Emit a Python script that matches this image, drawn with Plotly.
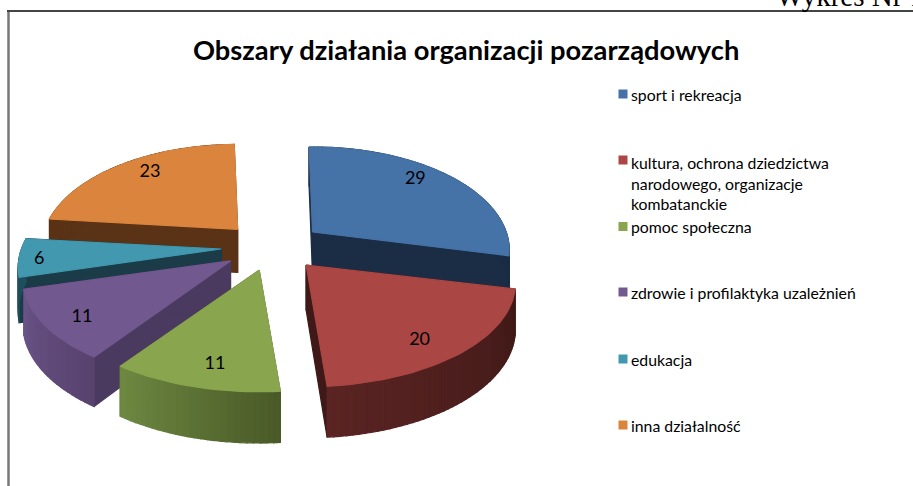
import math
import plotly.graph_objects as go

categories = ["sport i rekreacja",
              "kultura, ochrona dziedzictwa<br>narodowego, organizacje<br>kombatanckie",
              "pomoc społeczna",
              "zdrowie i profilaktyka uzależnień",
              "edukacja",
              "inna działalność"]
values = [29, 20, 11, 11, 6, 23]
title_text = "Obszary działania organizacji pozarządowych"

top_colors = ["#4572A7", "#AA4643", "#89A54E", "#71588F", "#4198AF", "#DB843D"]
wall_colors = ["#1B2D45", "#3F1917", "#4A5A28", "#4B3A5F", "#1A3B47", "#5A3316"]
arc_start = ["#1B2D45", "#3F1917", "#4A5A28", "#58436F", "#1F4E5C", "#5A3316"]
arc_end = ["#1B2D45", "#5A2423", "#6F8A42", "#6A5488", "#1F4E5C", "#5A3316"]
label_frac_x = [0.76, 0.73, 0.68, 0.80, 0.90, 0.76]
label_frac_y = [0.93, 0.86, 0.81, 0.88, 1.18, 0.88]
paint_order = [0, 5, 4, 3, 2, 1]
legend_y = [94, 160, 226.5, 292, 359, 425]
legend_text_y = [94, 182.5, 226.5, 292, 359, 425]

CX, CY = 272.5, 247
RX, RY, K = 199, 100, 0.1776
EXPLODE_X, EXPLODE_Y = 51.5, 24
EXPLODE_FRAC = 0.25
FONT = "Lato"


def rim(a, s_x):
    s, c = math.sin(a), math.cos(a)
    d = 1 + K * c
    return s_x * RX * s / d, -RY * c / d


def depth(y):
    return 43 + (y - 227) * 0.05


def hex2rgb(h):
    return [int(h[i:i + 2], 16) for i in (1, 3, 5)]


def mix(a, b, t):
    ca, cb = hex2rgb(a), hex2rgb(b)
    return "rgb(%d,%d,%d)" % tuple(round(x + (y - x) * t) for x, y in zip(ca, cb))


def poly(xs, ys, color):
    return go.Scatter(x=xs + xs[:1], y=ys + ys[:1], mode="lines", fill="toself",
                      fillcolor=color, line=dict(color=color, width=1.2),
                      hoverinfo="skip", showlegend=False)


def extrude(p, q, color):
    xs = [p[0], q[0], q[0], p[0]]
    ys = [p[1], q[1], q[1] + depth(q[1]), p[1] + depth(p[1])]
    return poly(xs, ys, color)


total = sum(values)
angles = [-1.2]
for v in values:
    angles.append(angles[-1] + v / total * 360)

traces = []
labels_x, labels_y, labels_t = [], [], []
for i in paint_order:
    a0, a1 = math.radians(angles[i]), math.radians(angles[i + 1])
    mid = (a0 + a1) / 2
    ax = CX + EXPLODE_X * math.sin(mid)
    ay = CY - EXPLODE_Y * math.cos(mid)
    sx = 1 / (1 + K * EXPLODE_FRAC * math.cos(mid))
    n = max(6, int((angles[i + 1] - angles[i]) / 1.5))
    arc = []
    for k in range(n + 1):
        dx, dy = rim(a0 + (a1 - a0) * k / n, sx)
        arc.append((ax + dx, ay + dy))
    apex = (ax, ay)
    traces.append(extrude(apex, arc[0], wall_colors[i]))
    traces.append(extrude(apex, arc[-1], wall_colors[i]))
    for k in range(n):
        traces.append(extrude(arc[k], arc[k + 1], mix(arc_start[i], arc_end[i], k / n)))
    traces.append(poly([apex[0]] + [p[0] for p in arc], [apex[1]] + [p[1] for p in arc], top_colors[i]))
    dx, dy = rim(mid, sx)
    labels_x.append(ax + label_frac_x[i] * dx)
    labels_y.append(ay + label_frac_y[i] * dy)
    labels_t.append(str(values[i]))

traces.append(go.Scatter(x=labels_x, y=labels_y, text=labels_t, mode="text",
                         textposition="middle center",
                         textfont=dict(family=FONT, size=18, color="#000000"),
                         hoverinfo="skip", showlegend=False))
traces.append(go.Scatter(x=[623] * len(categories), y=legend_y, mode="markers",
                         marker=dict(symbol="square", size=9, color=top_colors, line=dict(width=0)),
                         hoverinfo="skip", showlegend=False))

fig = go.Figure(traces)
annotations = [dict(x=465.5, y=49.5, xref="x", yref="y", text="<b>" + title_text + "</b>", showarrow=False,
                    font=dict(family=FONT, size=27.3, color="#000000"), xanchor="center", yanchor="middle"),
               dict(x=774 / 913, y=1 + 4 / 486, xref="paper", yref="paper", text="Wykres Nr 1", showarrow=False,
                    font=dict(family="Liberation Serif", size=29, color="#000000"),
                    xanchor="left", yanchor="middle")]
for name, y in zip(categories, legend_text_y):
    annotations.append(dict(x=629, y=y, xref="x", yref="y", text=name, showarrow=False, align="left",
                            font=dict(family=FONT, size=15.8, color="#000000"),
                            xanchor="left", yanchor="middle"))

fig.update_layout(
    width=913, height=486, margin=dict(l=0, r=0, t=0, b=0),
    paper_bgcolor="#FFFFFF", plot_bgcolor="#FFFFFF",
    xaxis=dict(range=[0, 913], visible=False, fixedrange=True),
    yaxis=dict(range=[486, 0], visible=False, fixedrange=True),
    annotations=annotations,
    shapes=[dict(type="line", xref="x", yref="y", x0=8.5, x1=8.5, y0=11, y1=486,
                 line=dict(color="#777777", width=2.5)),
            dict(type="line", xref="x", yref="y", x0=7, x1=913, y0=11, y1=11,
                 line=dict(color="#444444", width=2))],
)
fig.write_html("out.html", config={"displayModeBar": False},
               post_script="document.body.style.margin='0';document.documentElement.style.overflow='hidden';")
